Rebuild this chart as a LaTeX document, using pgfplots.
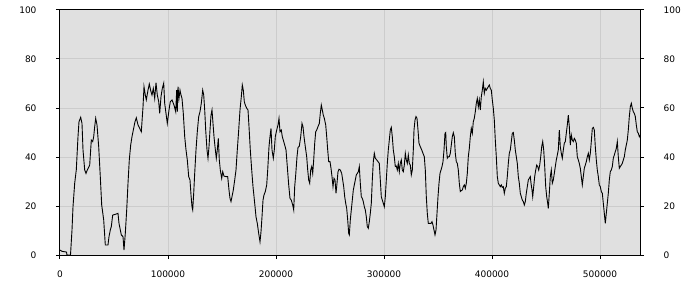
\documentclass[border=0pt]{standalone}
\usepackage{fontspec}
\setmainfont{DejaVu Sans}
\usepackage{pgfplots}
\pgfplotsset{compat=1.18}
\usepackage{pgfplotstable}
\definecolor{bg}{HTML}{E0E0E0}
\definecolor{gridc}{HTML}{CCCCCC}
\pgfplotstableread{
x y
0 2.0
1852 1.5
6019 1.2
6481 0
9722 0
11111 10.2
12037 19.7
13611 29.3
15093 34.8
16667 48.3
17593 54.4
19167 56.2
20370 53.7
21296 42.9
22870 34.7
24074 33.3
25278 34.7
27500 36.7
28981 46.9
30278 46.3
31204 48.3
32130 52.4
33056 55.8
34259 53.1
35833 44.2
37315 31.9
38611 20.4
40463 14.3
41944 4.1
44444 4.1
45370 7.5
46574 10.2
47500 11.6
48796 16.3
51204 16.6
53704 17.0
54630 12.9
56759 8.2
58333 7.5
59259 2.0
60463 8.8
61759 18.4
62963 29.3
64167 38.8
65463 44.9
66667 48.3
67870 51.0
69444 54.4
70648 56.0
72222 53.1
73796 51.7
75278 50.3
76852 60.4
77778 68.7
78981 65.3
79907 63.3
81481 67.3
82685 69.8
83981 67.1
85185 65.3
86389 68.0
87685 63.9
88889 70.3
90093 65.3
91389 62.6
92315 57.8
93519 64.6
94722 68.0
96019 70.1
96944 61.9
98148 57.8
99352 53.7
100926 59.2
102130 62.6
103704 63.3
105556 61.2
107130 58.5
108056 67.3
108611 58.5
109259 68.7
110185 63.9
111111 67.3
112037 65.3
112963 63.9
114167 57.8
115463 48.3
116667 42.9
117870 38.8
119167 32.0
120370 30.6
121296 24.5
122222 19.7
122870 18.4
123796 25.2
124722 33.3
125926 42.9
127130 50.3
128426 56.5
129630 58.5
130833 61.9
132130 67.3
133056 65.3
133981 59.2
134907 51.0
136111 42.9
137037 39.5
137963 44.2
138889 51.0
139815 57.1
140741 59.2
141667 53.7
142593 48.3
143519 44.2
144722 39.5
145648 42.9
146574 47.6
147500 38.8
148426 34.7
149722 31.3
150648 34.0
151852 32.2
153704 32.0
155278 32.0
156481 26.5
157407 23.1
158333 21.8
159259 23.8
160463 26.5
161759 30.6
162963 34.7
164167 42.9
165463 51.0
166667 59.2
167870 64.6
168796 69.4
169722 67.3
170648 62.6
171574 61.2
172870 59.9
174074 59.2
175000 52.4
176204 42.9
177500 34.7
178704 27.9
180278 21.1
181481 15.6
182685 12.9
183981 8.8
185185 5.4
186111 9.5
187037 15.6
187963 22.4
188889 24.5
190093 25.9
191389 28.6
192315 34.7
193519 44.2
194444 48.3
195370 51.7
196296 42.9
197500 39.5
198426 42.9
199352 48.3
200648 51.0
201852 53.1
202778 55.8
203704 50.3
204907 51.0
205833 48.3
206759 46.9
208056 44.9
209259 42.9
210463 36.1
211759 28.6
212963 23.1
214167 22.4
215463 20.4
216389 18.4
217315 27.9
218241 32.7
219444 40.1
220370 43.9
221574 44.4
222870 48.3
224074 53.7
225000 52.4
225926 48.3
227130 44.2
228426 40.1
229352 34.7
230278 30.6
231204 29.3
232130 34.7
233056 36.1
233981 33.3
234907 38.8
235833 45.6
236759 50.3
237685 51.0
238889 52.4
240093 53.7
241019 57.8
241944 61.2
242870 59.2
243796 57.1
244722 55.8
246019 53.1
246944 48.3
247870 42.9
248796 38.1
250000 38.1
250926 35.4
251852 32.0
252778 27.9
253704 31.3
254630 30.6
255556 25.2
256481 29.3
257407 34.0
258333 35.0
259537 34.7
260833 33.3
261759 30.6
262685 27.9
263611 23.8
264537 21.1
265463 19.0
266389 14.3
267315 8.8
267870 8.2
268796 14.3
269722 18.4
270648 22.4
271574 26.5
272500 28.6
273426 30.6
274352 32.7
275278 33.3
276204 34.0
277130 36.1
278056 29.3
278981 23.8
279907 23.1
280833 21.8
281759 19.7
282685 18.4
283611 15.6
284537 11.6
285463 10.9
286389 13.6
287315 17.0
288241 21.1
289167 30.6
290093 38.1
291019 41.5
291944 39.5
293241 38.8
294444 38.1
295648 37.4
296574 30.6
297500 23.8
298426 22.4
299352 21.1
300278 19.7
301204 23.8
302130 30.6
303056 37.4
303981 42.9
304907 46.9
305833 51.0
306759 52.1
307685 48.3
308611 42.9
309537 40.1
310463 36.1
311389 36.3
312315 34.7
313241 37.4
314167 34.0
315093 37.4
316019 38.8
316944 34.7
317870 34.0
318796 36.7
319722 41.5
320648 38.8
321574 37.4
322500 40.8
323426 37.4
324352 36.7
325278 32.7
326204 34.7
327130 42.9
327778 51.0
328704 55.1
329630 56.5
330556 55.8
331481 51.0
332407 45.6
333611 44.2
334907 42.9
336111 41.5
337315 40.1
338241 34.7
339167 23.8
340093 17.0
341019 12.9
342315 12.9
343519 12.9
344444 13.6
345370 12.2
346296 10.2
347222 8.2
348148 10.2
349074 17.0
350000 23.8
350926 29.3
351852 33.3
352778 34.7
353704 36.1
354630 38.1
355556 42.9
356481 49.7
357130 50.0
357685 44.2
358611 39.5
359537 40.1
360463 40.1
361389 41.5
362315 44.9
363241 48.3
364167 49.9
365093 48.3
366019 41.5
366944 38.1
367870 37.4
368796 34.7
369722 29.3
370648 25.9
371574 26.3
372500 26.5
373426 27.9
374352 28.6
375278 27.2
376204 29.3
377130 33.3
378056 40.1
378981 43.5
379907 48.3
380833 51.7
381759 49.7
382685 54.4
383611 55.8
384537 58.5
385463 61.9
386389 63.9
387315 60.5
388241 63.3
389167 59.2
390093 64.6
391019 67.3
391944 70.7
392870 66.0
393796 68.0
394722 67.3
395648 68.0
396574 68.7
397500 69.4
398426 68.0
399352 67.3
400278 63.3
401204 59.9
402130 55.1
403056 46.9
403981 40.1
404907 32.0
405833 29.3
406759 28.6
407685 27.9
408611 28.6
409537 27.6
410463 27.9
411389 25.2
412315 27.2
413241 27.9
414167 32.0
415093 37.4
416019 41.5
416944 42.9
417870 46.3
418796 49.7
419722 50.0
420648 46.9
421574 42.9
422500 40.1
423426 37.4
424352 32.0
425278 29.3
426204 25.2
427130 23.8
428056 22.4
428981 21.8
429907 20.4
430833 21.8
431759 25.2
432685 27.9
433611 30.6
434537 31.3
435463 32.0
436111 29.3
437037 26.5
437685 23.8
438611 27.9
439537 32.0
440463 34.7
441389 36.7
442315 36.1
443241 34.7
444167 36.7
445093 40.1
446019 44.2
446944 46.3
447870 42.9
448796 36.1
449722 27.9
450648 23.8
451574 21.1
452130 19.0
453056 25.2
453981 32.0
454907 34.7
455833 29.3
456759 30.6
457685 33.3
458611 36.1
459537 38.8
460463 40.8
461389 42.9
462315 51.0
463241 44.2
464167 41.5
465093 39.5
466019 42.9
466944 45.6
467870 46.3
468796 49.7
469722 53.1
470648 57.1
471574 52.4
472500 44.9
473426 49.0
474352 46.9
475278 46.3
476204 47.6
477130 46.9
478056 45.6
478981 40.1
479907 38.8
480833 37.4
481759 35.4
482685 32.0
483611 28.6
484537 32.0
485463 35.4
486389 36.7
487315 38.1
488241 40.1
489167 41.5
490093 38.8
491019 41.5
491944 46.3
492870 51.7
493796 52.1
494722 51.0
495648 44.2
496574 38.8
497500 34.7
498426 32.0
499352 28.6
500278 27.9
501204 25.9
502130 25.2
503056 21.1
503981 17.0
504907 12.9
505833 17.0
506759 21.1
507685 25.2
508611 30.6
509537 34.0
510463 34.7
511389 36.1
512315 39.5
513241 40.8
514167 42.2
515093 43.5
516019 46.3
516944 40.1
517870 35.4
518796 36.1
519722 36.7
520648 37.4
521574 38.8
522500 40.1
523426 42.9
524352 44.9
525278 46.9
526204 51.0
527130 56.5
528056 60.5
528981 61.9
529907 59.9
530833 58.5
531759 57.8
532685 56.5
533611 53.1
534537 50.3
535463 49.7
536389 48.3
537037 49.0
}\datatable
\begin{document}
\begin{tikzpicture}
\useasboundingbox (-60pt,-45pt) rectangle (640pt,255pt);
\pgfplotsset{common/.style={
  scale only axis, width=580pt, height=245pt,
  at={(0pt,0pt)}, anchor=origin,
  xmin=0, xmax=537037, ymin=0, ymax=100,
  ytick={0,20,...,100}, xtick={0,100000,...,500000},
  font=\fontsize{9}{10}\selectfont,
  /pgf/number format/assume math mode=true,
  scaled x ticks=false,
  xticklabel style={/pgf/number format/fixed, /pgf/number format/1000 sep={}},
  tick align=outside, major tick length=4pt,
  axis line style={line width=1pt},
  every tick/.style={black, line width=1pt},
}}
\begin{axis}[common,
  axis background/.style={fill=bg},
  grid=major, grid style={gridc, line width=1pt},
  xtick pos=bottom, ytick pos=left,
  yticklabel style={anchor=east, xshift=-16pt},
  xticklabel style={yshift=-8pt},
]
\addplot[black, line width=0.9pt, mark=none] table[x=x,y=y]{\datatable};
\end{axis}
\begin{axis}[common,
  axis x line=none, axis y line*=right,
  xtick=\empty,
  ytick pos=right, yticklabel pos=right,
  yticklabel style={anchor=west, xshift=16pt},
]
\end{axis}
\end{tikzpicture}
\end{document}
